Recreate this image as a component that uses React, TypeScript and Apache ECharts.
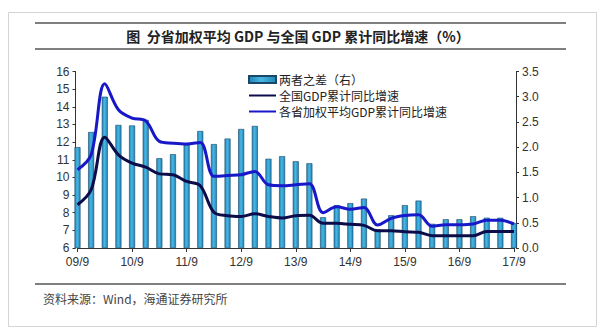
import React, { useEffect, useRef } from "react";
import * as echarts from "echarts";

const quarters = [
  "09/9", "09/12", "10/3", "10/6", "10/9", "10/12", "11/3", "11/6", "11/9", "11/12",
  "12/3", "12/6", "12/9", "12/12", "13/3", "13/6", "13/9", "13/12", "14/3", "14/6",
  "14/9", "14/12", "15/3", "15/6", "15/9", "15/12", "16/3", "16/6", "16/9", "16/12",
  "17/3", "17/6", "17/9",
];

const nationalGdp = [
  8.45, 9.3, 12.28, 11.28, 10.81, 10.58, 10.2, 10.15, 9.77, 9.53,
  8.02, 7.83, 7.79, 7.94, 7.79, 7.7, 7.83, 7.85, 7.4, 7.4,
  7.34, 7.28, 6.98, 6.98, 6.92, 6.89, 6.7, 6.7, 6.7, 6.7,
  6.94, 6.94, 6.94,
];

const provincialGdp = [
  10.43, 11.28, 15.3, 13.83, 13.36, 13.2, 12.04, 11.94, 11.89, 11.98,
  10.06, 10.11, 10.15, 10.34, 9.58, 9.53, 9.58, 9.64, 8.0, 8.34,
  8.19, 8.3, 7.3, 7.68, 7.84, 7.88, 7.23, 7.32, 7.32, 7.36,
  7.57, 7.57, 7.36,
];

const gapValues = [
  2.0, 2.3, 3.0, 2.44, 2.43, 2.54, 1.78, 1.86, 2.05, 2.32,
  2.06, 2.17, 2.36, 2.42, 1.77, 1.82, 1.72, 1.68, 0.61, 0.85,
  0.89, 0.98, 0.37, 0.65, 0.85, 0.94, 0.48, 0.57, 0.57, 0.63,
  0.6, 0.6, 0.49,
];

const seriesNames = ["两者之差（右）", "全国GDP累计同比增速", "各省加权平均GDP累计同比增速"];
const titleText = "图  分省加权平均 GDP 与全国 GDP 累计同比增速（%）";
const sourceText = "资料来源：Wind，海通证券研究所";

const cjk = '"Noto Sans CJK SC", "Noto Sans", sans-serif';
const latin = '"Liberation Sans", Arial, sans-serif';

export default function App() {
  const ref = useRef<HTMLDivElement>(null);

  useEffect(() => {
    if (!ref.current) return;
    const chart = echarts.init(ref.current, null, { renderer: "svg" });
    chart.setOption({
      animation: false,
      backgroundColor: "#ffffff",
      graphic: [
        {
          type: "rect",
          shape: { x: 8.5, y: 12.5, width: 588, height: 314 },
          style: { fill: "none", stroke: "#d4d4d4", lineWidth: 1 },
          silent: true,
        },
        {
          type: "line",
          shape: { x1: 35, y1: 23, x2: 566, y2: 23 },
          style: { stroke: "#555", lineWidth: 1.5 },
        },
        {
          type: "line",
          shape: { x1: 35, y1: 49, x2: 566, y2: 49 },
          style: { stroke: "#555", lineWidth: 1.5 },
        },
        {
          type: "text",
          x: 298,
          y: 36,
          style: {
            text: titleText,
            font: `bold 14px ${cjk}`,
            fill: "#222",
            align: "center",
            verticalAlign: "middle",
          },
        },
        {
          type: "line",
          shape: { x1: 35, y1: 284, x2: 566, y2: 284 },
          style: { stroke: "#555", lineWidth: 1.5 },
        },
        {
          type: "text",
          x: 43,
          y: 298,
          style: {
            text: sourceText,
            font: `12px ${cjk}`,
            fill: "#444",
            align: "left",
            verticalAlign: "middle",
          },
        },
      ],
      legend: {
        orient: "vertical",
        left: 243,
        top: 68,
        itemGap: 3,
        itemWidth: 27,
        itemHeight: 7,
        textStyle: {
          fontFamily: cjk,
          fontSize: 12,
          lineHeight: 13,
          color: "#222",
          padding: [0, 0, 0, -2],
        },
        data: [
          { name: seriesNames[0], icon: "rect" },
          { name: seriesNames[1], itemStyle: { opacity: 0 } },
          { name: seriesNames[2], itemStyle: { opacity: 0 } },
        ],
      },
      grid: { left: 77.5, right: 90, top: 71.5, bottom: 86, containLabel: false },
      xAxis: {
        type: "category",
        data: quarters,
        boundaryGap: false,
        axisLine: { lineStyle: { color: "#333", width: 1 } },
        axisTick: { show: true, interval: 3, length: 4, lineStyle: { color: "#333" } },
        axisLabel: {
          interval: 3,
          fontFamily: latin,
          fontSize: 12,
          color: "#333",
          margin: 8,
        },
        splitLine: { show: false },
      },
      yAxis: [
        {
          type: "value",
          min: 6,
          max: 16,
          interval: 1,
          offset: 2,
          axisLine: { show: true, lineStyle: { color: "#333", width: 1 } },
          axisTick: { show: true, length: 3, lineStyle: { color: "#333" } },
          axisLabel: { fontFamily: latin, fontSize: 12, color: "#333", margin: 6 },
          splitLine: { show: false },
        },
        {
          type: "value",
          min: 0,
          max: 3.5,
          interval: 0.5,
          offset: 2,
          position: "right",
          axisLine: { show: true, lineStyle: { color: "#333", width: 1 } },
          axisTick: { show: true, length: 3, lineStyle: { color: "#333" } },
          axisLabel: {
            fontFamily: latin,
            fontSize: 12,
            color: "#333",
            margin: 6,
            formatter: (v: number) => v.toFixed(1),
          },
          splitLine: { show: false },
        },
      ],
      series: [
        {
          name: seriesNames[0],
          type: "bar",
          yAxisIndex: 1,
          data: gapValues,
          barWidth: 6,
          itemStyle: {
            color: new echarts.graphic.LinearGradient(0, 0, 1, 0, [
              { offset: 0, color: "#2286b8" },
              { offset: 0.45, color: "#48b6e4" },
              { offset: 1, color: "#2286b8" },
            ]),
            borderColor: "#1a4866",
            borderWidth: 0.6,
          },
          z: 1,
        },
        {
          name: seriesNames[1],
          type: "line",
          yAxisIndex: 0,
          data: nationalGdp,
          smooth: 0.35,
          symbol: "none",
          lineStyle: { color: "#0c0c4a", width: 3 },
          itemStyle: { color: "#0c0c4a" },
          z: 3,
        },
        {
          name: seriesNames[2],
          type: "line",
          yAxisIndex: 0,
          data: provincialGdp,
          smooth: 0.35,
          symbol: "none",
          lineStyle: { color: "#1818c8", width: 3 },
          itemStyle: { color: "#1818c8" },
          z: 3,
        },
      ],
    });
    return () => chart.dispose();
  }, []);

  return (
    <div
      ref={ref}
      style={{ position: "fixed", left: 0, top: 0, width: 604, height: 334 }}
    />
  );
}
